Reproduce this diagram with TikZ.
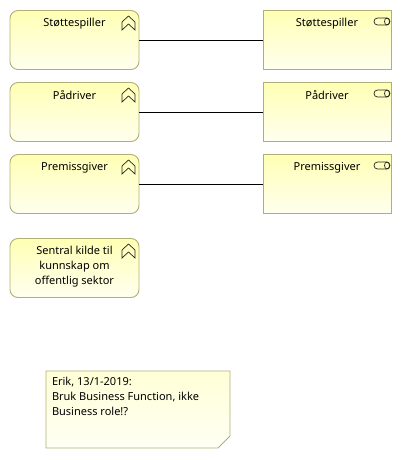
\documentclass[tikz,border=0pt]{standalone}
\usepackage{fontspec}
\setmainfont{Noto Sans}
\usetikzlibrary{positioning,shapes.misc}
\definecolor{boxedge}{RGB}{176,176,118}
\definecolor{boxtop}{RGB}{255,255,181}
\definecolor{boxbottom}{RGB}{255,255,238}
\newcommand{\toptext}[1]{\parbox[c][43pt][t]{118pt}{\centering #1}}

\tikzset{
    funcbox/.style={
        rectangle,
        draw=boxedge,
        line width=0.9pt,
        rounded corners=8pt,
        top color=boxtop,
        bottom color=boxbottom,
        minimum width=129pt,
        minimum height=59pt,
        inner sep=0pt,
        outer sep=0pt,
        font=\fontsize{11pt}{15pt}\selectfont
    },
    rolebox/.style={
        funcbox,
        rounded corners=0pt,
        minimum width=128pt
    },
    notebox/.style={
        chamfered rectangle,
        chamfered rectangle corners=south east,
        chamfered rectangle xsep=6pt,
        chamfered rectangle ysep=6pt,
        draw=boxedge,
        line width=0.9pt,
        top color=boxtop!55!white,
        bottom color=boxbottom!60!white,
        minimum width=172pt,
        minimum height=71pt,
        inner sep=0pt,
        outer sep=0pt,
        font=\fontsize{11pt}{15pt}\selectfont
    },
    funcicon/.pic={
        \draw[sharp corners, black!85, line width=0.7pt] (-6.5,-6) -- (0,-12) -- (6.5,-6) -- (6.5,2) -- (0,-4) -- (-6.5,2) -- cycle;
    },
    roleicon/.pic={
        \draw[black!85, line width=0.7pt, rounded corners=3.5pt] (-8,-3.5) rectangle (8,3.5);
        \draw[black!85, line width=0.7pt] (5,0) ellipse (2.5pt and 3.5pt);
    }
}

\begin{document}
\begin{tikzpicture}[x=1pt, y=-1pt]
\useasboundingbox (0,0) rectangle (402,460);

\node[funcbox] (func1) at (74.5,40) {\toptext{Støttespiller}};
\node[funcbox] (func2) at (74.5,112) {\toptext{Pådriver}};
\node[funcbox] (func3) at (74.5,184) {\toptext{Premissgiver}};
\node[funcbox] (func4) at (74.5,268) {\toptext{Sentral kilde til\\kunnskap om\\offentlig sektor}};

\node[rolebox] (role1) at (327,40) {\toptext{Støttespiller}};
\node[rolebox] (role2) at (327,112) {\toptext{Pådriver}};
\node[rolebox] (role3) at (327,184) {\toptext{Premissgiver}};

\pic at (128.5,28) {funcicon};
\pic at (128.5,100) {funcicon};
\pic at (128.5,172) {funcicon};
\pic at (128.5,256) {funcicon};

\pic at (382,21.5) {roleicon};
\pic at (382,93.5) {roleicon};
\pic at (382,165.5) {roleicon};

\draw (func1) -- (role1);
\draw (func2) -- (role2);
\draw (func3) -- (role3);

\node[notebox] (note) at (138,409.5)
{\parbox[c][65pt][t]{172pt}{Erik, 13/1-2019:\\Bruk Business Function, ikke\\Business role!?}};

\end{tikzpicture}
\end{document}
